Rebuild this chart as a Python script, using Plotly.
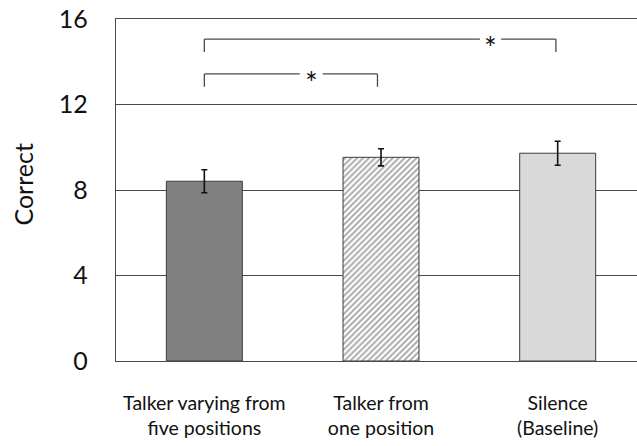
import plotly.graph_objects as go

categories = ["Talker varying from<br>five positions", "Talker from<br>one position", "Silence<br>(Baseline)"]
x_pos = [0, 1, 2]
means = [8.41, 9.53, 9.72]
errors = [0.54, 0.40, 0.56]
y_ticks = [0, 4, 8, 12, 16]

# significance brackets
bracket_x0 = [0.0, 0.0]
bracket_x1 = [0.98, 1.99]
bracket_y = [13.43, 15.06]
bracket_drop = [0.6, 0.6]
star_x = [0.605, 1.62]
star_gap = [0.065, 0.06]

LINE = "#4a4a4a"
FONT = "Lato"

fig = go.Figure()

fig.add_trace(go.Bar(
    x=x_pos, y=means,
    width=0.43,
    marker=dict(
        color=["#808080", "#ffffff", "#d9d9d9"],
        line=dict(color="#3c3c3c", width=1),
        pattern=dict(shape=["", "/", ""], fgcolor="#505050", bgcolor="#ffffff",
                     size=4.2, solidity=0.42),
    ),
    error_y=dict(type="data", array=errors, color="#111111", thickness=1.6, width=3),
    showlegend=False,
    hoverinfo="skip",
))

shapes = []
annotations = []
for x0, x1, y, d, sx, g in zip(bracket_x0, bracket_x1, bracket_y, bracket_drop, star_x, star_gap):
    lw = dict(color=LINE, width=1.3)
    shapes.append(dict(type="line", xref="x", yref="y", x0=x0, x1=x0, y0=y - d, y1=y, line=lw))
    shapes.append(dict(type="line", xref="x", yref="y", x0=x0, x1=sx - g, y0=y, y1=y, line=lw))
    shapes.append(dict(type="line", xref="x", yref="y", x0=sx + g, x1=x1, y0=y, y1=y, line=lw))
    shapes.append(dict(type="line", xref="x", yref="y", x0=x1, x1=x1, y0=y - d, y1=y, line=lw))
    annotations.append(dict(x=sx, y=y, xref="x", yref="y", text="*", showarrow=False,
                            xanchor="center", yanchor="middle",
                            font=dict(family=FONT, size=30, color="#111111"),
                            yshift=-8))

annotations.append(dict(x=-0.1785, y=0.516, xref="paper", yref="paper", text="Correct",
                        textangle=-90, showarrow=False, xanchor="center", yanchor="middle",
                        font=dict(family=FONT, size=25, color="#111111")))

fig.update_layout(
    width=637, height=446,
    margin=dict(l=116, r=0, t=19, b=85, autoexpand=False),
    plot_bgcolor="white", paper_bgcolor="white",
    shapes=shapes,
    annotations=annotations,
    xaxis=dict(
        range=[-0.5, 2.449], automargin=False,
        tickvals=x_pos, ticktext=categories,
        showgrid=False, zeroline=False,
        showline=True, mirror=True, linecolor=LINE, linewidth=1.3,
        ticks="", ticklabelstandoff=24,
        tickfont=dict(family=FONT, size=19.5, color="#111111"),
    ),
    yaxis=dict(
        range=[0, 16], automargin=False,
        tickvals=y_ticks,
        showgrid=True, gridcolor=LINE, gridwidth=1.3,
        zeroline=False,
        showline=True, mirror=False, linecolor=LINE, linewidth=1.3,
        ticks="", ticklabelstandoff=22, ticklabeloverflow="allow",
        tickfont=dict(family=FONT, size=25, color="#111111"),
    ),
)

fig.write_html("out.html", config={"displayModeBar": False},
               post_script="document.body.style.margin='0';")
